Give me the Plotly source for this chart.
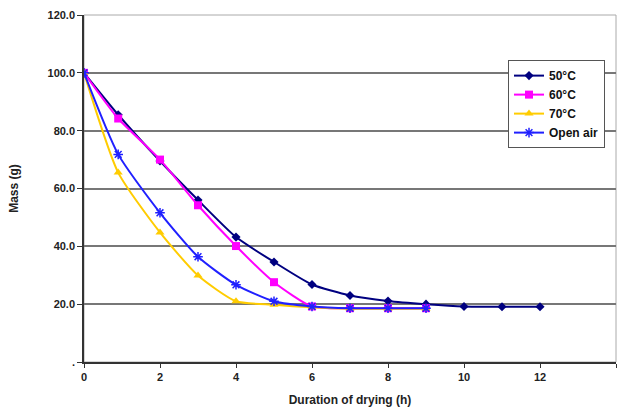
import plotly.graph_objects as go

hours = [0, 0.9, 2, 3, 4, 5, 6, 7, 8, 9, 10, 11, 12]
hours_short = [0, 0.9, 2, 3, 4, 5, 6, 7, 8, 9]

mass_50 = [100, 85.5, 69.5, 56, 43.2, 34.6, 26.8, 23.0, 21.1, 20.0, 19.2, 19.1, 19.1]
mass_60 = [100, 84.2, 70.0, 54.2, 40.1, 27.6, 19.2, 18.6, 18.6, 18.6]
mass_70 = [100, 65.5, 44.8, 29.9, 21.0, 19.8, 18.9, 18.4, 18.4, 18.4]
mass_open = [100, 71.8, 51.6, 36.4, 26.7, 21.0, 19.2, 18.6, 18.6, 18.6]

y_tickvals = [0, 20, 40, 60, 80, 100, 120]
y_ticktext = [".", "20.0", "40.0", "60.0", "80.0", "100.0", "120.0"]
x_tickvals = [0, 2, 4, 6, 8, 10, 12, 14]

FONT = "Arial, Liberation Sans, sans-serif"

series = [
    ("50°C", hours, mass_50, "#000080", "diamond", 7, None),
    ("60°C", hours_short, mass_60, "#FF00FF", "square", 8, None),
    ("70°C", hours_short, mass_70, "#FFCC00", "triangle-up", 8, None),
    ("Open air", hours_short, mass_open, "#2020FF", "asterisk-open", 8, 1.5),
]

fig = go.Figure()
for name, xs, ys, col, sym, sz, lw in series:
    marker = dict(symbol=sym, size=sz, color=col)
    if lw:
        marker["line"] = dict(color=col, width=lw)
    fig.add_trace(go.Scatter(
        x=xs, y=ys, name=name, mode="lines+markers",
        line=dict(color=col, width=2, shape="spline", smoothing=0.6),
        marker=marker,
    ))

fig.update_layout(
    width=619, height=412,
    margin=dict(l=84, r=3, t=15, b=50),
    paper_bgcolor="white", plot_bgcolor="white",
    font=dict(family=FONT, size=11, color="#222222"),
    showlegend=True,
    legend=dict(
        x=0.797, y=0.87, xanchor="left", yanchor="top",
        bgcolor="white", bordercolor="#555555", borderwidth=1,
        font=dict(family=FONT, size=12, color="#111111", weight="bold"),
        tracegroupgap=0, itemwidth=30,
    ),
    shapes=[dict(type="rect", xref="paper", yref="paper", x0=0, y0=0, x1=1, y1=1,
                 line=dict(color="#AAAAAA", width=1), layer="below")],
)

fig.update_xaxes(
    range=[0, 14], tickvals=x_tickvals, ticks="outside", ticklen=4,
    tickcolor="#333333", showgrid=False, zeroline=False,
    showline=True, linecolor="#333333", linewidth=1.5,
    tickfont=dict(family=FONT, size=11, color="#222222", weight="bold"),
    title=dict(text="Duration of drying (h)", standoff=14,
               font=dict(family=FONT, size=12, color="#222222", weight="bold")),
)
fig.update_yaxes(
    range=[0, 120], tickvals=y_tickvals, ticktext=y_ticktext,
    ticks="outside", ticklen=5, tickcolor="#333333",
    showgrid=True, gridcolor="#777777", gridwidth=1.5, zeroline=False,
    showline=True, linecolor="#333333", linewidth=1.5,
    tickfont=dict(family=FONT, size=11, color="#222222", weight="bold"),
    title=dict(text="Mass (g)", standoff=26,
               font=dict(family=FONT, size=12, color="#222222", weight="bold")),
)

fig.write_html(
    "out.html",
    config={"displayModeBar": False},
    post_script="document.body.style.margin='0';document.body.style.overflow='hidden';",
)
